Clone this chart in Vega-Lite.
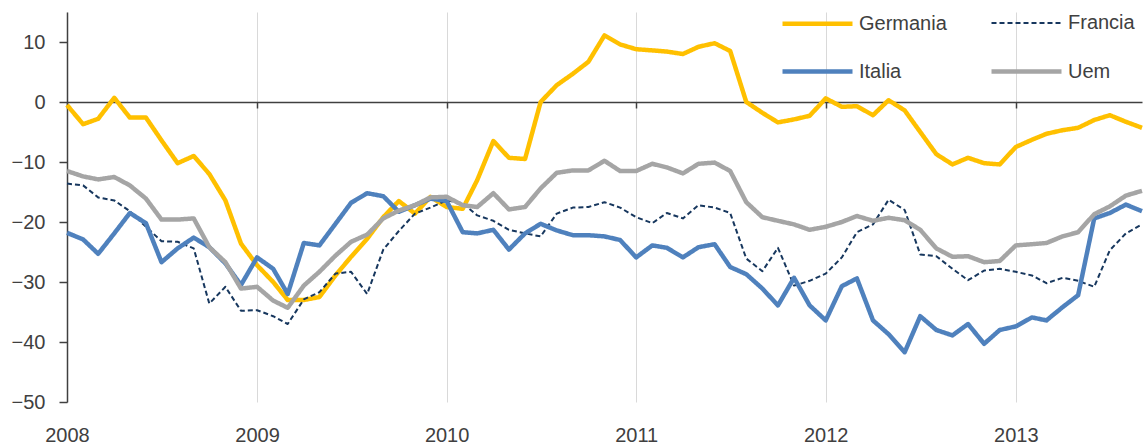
{
  "$schema": "https://vega.github.io/schema/vega-lite/v6.json",
  "width": 1075,
  "height": 390,
  "autosize": "none",
  "padding": {"left": 67, "top": 12, "right": 4, "bottom": 46},
  "background": "white",
  "config": {
    "view": {"stroke": null},
    "font": "Liberation Sans",
    "axis": {"labelFont": "Liberation Sans", "labelFontSize": 20, "labelColor": "#404040", "title": null}
  },
  "data": {
    "values": [
      {"mese": "2008-01-01", "serie": "Germania", "valore": -0.5},
      {"mese": "2008-02-01", "serie": "Germania", "valore": -3.7},
      {"mese": "2008-03-01", "serie": "Germania", "valore": -2.8},
      {"mese": "2008-04-01", "serie": "Germania", "valore": 0.7},
      {"mese": "2008-05-01", "serie": "Germania", "valore": -2.6},
      {"mese": "2008-06-01", "serie": "Germania", "valore": -2.6},
      {"mese": "2008-07-01", "serie": "Germania", "valore": -6.4},
      {"mese": "2008-08-01", "serie": "Germania", "valore": -10.2},
      {"mese": "2008-09-01", "serie": "Germania", "valore": -9.0},
      {"mese": "2008-10-01", "serie": "Germania", "valore": -12.0},
      {"mese": "2008-11-01", "serie": "Germania", "valore": -16.4},
      {"mese": "2008-12-01", "serie": "Germania", "valore": -23.6},
      {"mese": "2009-01-01", "serie": "Germania", "valore": -27.2},
      {"mese": "2009-02-01", "serie": "Germania", "valore": -30.0},
      {"mese": "2009-03-01", "serie": "Germania", "valore": -33.0},
      {"mese": "2009-04-01", "serie": "Germania", "valore": -33.0},
      {"mese": "2009-05-01", "serie": "Germania", "valore": -32.5},
      {"mese": "2009-06-01", "serie": "Germania", "valore": -28.9},
      {"mese": "2009-07-01", "serie": "Germania", "valore": -25.8},
      {"mese": "2009-08-01", "serie": "Germania", "valore": -22.8},
      {"mese": "2009-09-01", "serie": "Germania", "valore": -19.2},
      {"mese": "2009-10-01", "serie": "Germania", "valore": -16.5},
      {"mese": "2009-11-01", "serie": "Germania", "valore": -18.6},
      {"mese": "2009-12-01", "serie": "Germania", "valore": -15.8},
      {"mese": "2010-01-01", "serie": "Germania", "valore": -17.5},
      {"mese": "2010-02-01", "serie": "Germania", "valore": -17.8},
      {"mese": "2010-03-01", "serie": "Germania", "valore": -13.0},
      {"mese": "2010-04-01", "serie": "Germania", "valore": -6.5},
      {"mese": "2010-05-01", "serie": "Germania", "valore": -9.3},
      {"mese": "2010-06-01", "serie": "Germania", "valore": -9.5},
      {"mese": "2010-07-01", "serie": "Germania", "valore": 0.0},
      {"mese": "2010-08-01", "serie": "Germania", "valore": 2.8},
      {"mese": "2010-09-01", "serie": "Germania", "valore": 4.7},
      {"mese": "2010-10-01", "serie": "Germania", "valore": 6.7},
      {"mese": "2010-11-01", "serie": "Germania", "valore": 11.1},
      {"mese": "2010-12-01", "serie": "Germania", "valore": 9.6},
      {"mese": "2011-01-01", "serie": "Germania", "valore": 8.8},
      {"mese": "2011-02-01", "serie": "Germania", "valore": 8.6},
      {"mese": "2011-03-01", "serie": "Germania", "valore": 8.4},
      {"mese": "2011-04-01", "serie": "Germania", "valore": 8.0},
      {"mese": "2011-05-01", "serie": "Germania", "valore": 9.2},
      {"mese": "2011-06-01", "serie": "Germania", "valore": 9.8},
      {"mese": "2011-07-01", "serie": "Germania", "valore": 8.5},
      {"mese": "2011-08-01", "serie": "Germania", "valore": 0.0},
      {"mese": "2011-09-01", "serie": "Germania", "valore": -1.8},
      {"mese": "2011-10-01", "serie": "Germania", "valore": -3.4},
      {"mese": "2011-11-01", "serie": "Germania", "valore": -2.9},
      {"mese": "2011-12-01", "serie": "Germania", "valore": -2.3},
      {"mese": "2012-01-01", "serie": "Germania", "valore": 0.6},
      {"mese": "2012-02-01", "serie": "Germania", "valore": -0.8},
      {"mese": "2012-03-01", "serie": "Germania", "valore": -0.7},
      {"mese": "2012-04-01", "serie": "Germania", "valore": -2.2},
      {"mese": "2012-05-01", "serie": "Germania", "valore": 0.3},
      {"mese": "2012-06-01", "serie": "Germania", "valore": -1.4},
      {"mese": "2012-07-01", "serie": "Germania", "valore": -5.0},
      {"mese": "2012-08-01", "serie": "Germania", "valore": -8.7},
      {"mese": "2012-09-01", "serie": "Germania", "valore": -10.4},
      {"mese": "2012-10-01", "serie": "Germania", "valore": -9.3},
      {"mese": "2012-11-01", "serie": "Germania", "valore": -10.2},
      {"mese": "2012-12-01", "serie": "Germania", "valore": -10.4},
      {"mese": "2013-01-01", "serie": "Germania", "valore": -7.5},
      {"mese": "2013-02-01", "serie": "Germania", "valore": -6.3},
      {"mese": "2013-03-01", "serie": "Germania", "valore": -5.3},
      {"mese": "2013-04-01", "serie": "Germania", "valore": -4.7},
      {"mese": "2013-05-01", "serie": "Germania", "valore": -4.3},
      {"mese": "2013-06-01", "serie": "Germania", "valore": -3.0},
      {"mese": "2013-07-01", "serie": "Germania", "valore": -2.2},
      {"mese": "2013-08-01", "serie": "Germania", "valore": -3.3},
      {"mese": "2013-09-01", "serie": "Germania", "valore": -4.3},

      {"mese": "2008-01-01", "serie": "Francia", "valore": -13.6},
      {"mese": "2008-02-01", "serie": "Francia", "valore": -13.9},
      {"mese": "2008-03-01", "serie": "Francia", "valore": -15.9},
      {"mese": "2008-04-01", "serie": "Francia", "valore": -16.4},
      {"mese": "2008-05-01", "serie": "Francia", "valore": -18.2},
      {"mese": "2008-06-01", "serie": "Francia", "valore": -20.8},
      {"mese": "2008-07-01", "serie": "Francia", "valore": -23.2},
      {"mese": "2008-08-01", "serie": "Francia", "valore": -23.3},
      {"mese": "2008-09-01", "serie": "Francia", "valore": -24.4},
      {"mese": "2008-10-01", "serie": "Francia", "valore": -33.6},
      {"mese": "2008-11-01", "serie": "Francia", "valore": -30.8},
      {"mese": "2008-12-01", "serie": "Francia", "valore": -34.8},
      {"mese": "2009-01-01", "serie": "Francia", "valore": -34.7},
      {"mese": "2009-02-01", "serie": "Francia", "valore": -35.7},
      {"mese": "2009-03-01", "serie": "Francia", "valore": -37.0},
      {"mese": "2009-04-01", "serie": "Francia", "valore": -32.9},
      {"mese": "2009-05-01", "serie": "Francia", "valore": -31.7},
      {"mese": "2009-06-01", "serie": "Francia", "valore": -28.6},
      {"mese": "2009-07-01", "serie": "Francia", "valore": -28.3},
      {"mese": "2009-08-01", "serie": "Francia", "valore": -32.0},
      {"mese": "2009-09-01", "serie": "Francia", "valore": -24.6},
      {"mese": "2009-10-01", "serie": "Francia", "valore": -21.5},
      {"mese": "2009-11-01", "serie": "Francia", "valore": -18.6},
      {"mese": "2009-12-01", "serie": "Francia", "valore": -17.6},
      {"mese": "2010-01-01", "serie": "Francia", "valore": -16.4},
      {"mese": "2010-02-01", "serie": "Francia", "valore": -16.9},
      {"mese": "2010-03-01", "serie": "Francia", "valore": -18.9},
      {"mese": "2010-04-01", "serie": "Francia", "valore": -19.8},
      {"mese": "2010-05-01", "serie": "Francia", "valore": -21.3},
      {"mese": "2010-06-01", "serie": "Francia", "valore": -21.9},
      {"mese": "2010-07-01", "serie": "Francia", "valore": -22.4},
      {"mese": "2010-08-01", "serie": "Francia", "valore": -18.6},
      {"mese": "2010-09-01", "serie": "Francia", "valore": -17.6},
      {"mese": "2010-10-01", "serie": "Francia", "valore": -17.5},
      {"mese": "2010-11-01", "serie": "Francia", "valore": -16.7},
      {"mese": "2010-12-01", "serie": "Francia", "valore": -17.6},
      {"mese": "2011-01-01", "serie": "Francia", "valore": -19.2},
      {"mese": "2011-02-01", "serie": "Francia", "valore": -20.2},
      {"mese": "2011-03-01", "serie": "Francia", "valore": -18.5},
      {"mese": "2011-04-01", "serie": "Francia", "valore": -19.4},
      {"mese": "2011-05-01", "serie": "Francia", "valore": -17.2},
      {"mese": "2011-06-01", "serie": "Francia", "valore": -17.6},
      {"mese": "2011-07-01", "serie": "Francia", "valore": -18.5},
      {"mese": "2011-08-01", "serie": "Francia", "valore": -26.1},
      {"mese": "2011-09-01", "serie": "Francia", "valore": -28.2},
      {"mese": "2011-10-01", "serie": "Francia", "valore": -24.3},
      {"mese": "2011-11-01", "serie": "Francia", "valore": -30.6},
      {"mese": "2011-12-01", "serie": "Francia", "valore": -29.8},
      {"mese": "2012-01-01", "serie": "Francia", "valore": -28.6},
      {"mese": "2012-02-01", "serie": "Francia", "valore": -25.9},
      {"mese": "2012-03-01", "serie": "Francia", "valore": -21.7},
      {"mese": "2012-04-01", "serie": "Francia", "valore": -20.4},
      {"mese": "2012-05-01", "serie": "Francia", "valore": -16.3},
      {"mese": "2012-06-01", "serie": "Francia", "valore": -18.0},
      {"mese": "2012-07-01", "serie": "Francia", "valore": -25.4},
      {"mese": "2012-08-01", "serie": "Francia", "valore": -25.7},
      {"mese": "2012-09-01", "serie": "Francia", "valore": -27.8},
      {"mese": "2012-10-01", "serie": "Francia", "valore": -29.7},
      {"mese": "2012-11-01", "serie": "Francia", "valore": -28.1},
      {"mese": "2012-12-01", "serie": "Francia", "valore": -27.8},
      {"mese": "2013-01-01", "serie": "Francia", "valore": -28.3},
      {"mese": "2013-02-01", "serie": "Francia", "valore": -28.9},
      {"mese": "2013-03-01", "serie": "Francia", "valore": -30.2},
      {"mese": "2013-04-01", "serie": "Francia", "valore": -29.3},
      {"mese": "2013-05-01", "serie": "Francia", "valore": -29.8},
      {"mese": "2013-06-01", "serie": "Francia", "valore": -30.8},
      {"mese": "2013-07-01", "serie": "Francia", "valore": -24.7},
      {"mese": "2013-08-01", "serie": "Francia", "valore": -21.9},
      {"mese": "2013-09-01", "serie": "Francia", "valore": -20.4},

      {"mese": "2008-01-01", "serie": "Italia", "valore": -21.8},
      {"mese": "2008-02-01", "serie": "Italia", "valore": -22.9},
      {"mese": "2008-03-01", "serie": "Italia", "valore": -25.3},
      {"mese": "2008-04-01", "serie": "Italia", "valore": -21.9},
      {"mese": "2008-05-01", "serie": "Italia", "valore": -18.5},
      {"mese": "2008-06-01", "serie": "Italia", "valore": -20.2},
      {"mese": "2008-07-01", "serie": "Italia", "valore": -26.7},
      {"mese": "2008-08-01", "serie": "Italia", "valore": -24.4},
      {"mese": "2008-09-01", "serie": "Italia", "valore": -22.6},
      {"mese": "2008-10-01", "serie": "Italia", "valore": -24.2},
      {"mese": "2008-11-01", "serie": "Italia", "valore": -26.9},
      {"mese": "2008-12-01", "serie": "Italia", "valore": -30.5},
      {"mese": "2009-01-01", "serie": "Italia", "valore": -25.9},
      {"mese": "2009-02-01", "serie": "Italia", "valore": -27.8},
      {"mese": "2009-03-01", "serie": "Italia", "valore": -32.0},
      {"mese": "2009-04-01", "serie": "Italia", "valore": -23.5},
      {"mese": "2009-05-01", "serie": "Italia", "valore": -23.9},
      {"mese": "2009-06-01", "serie": "Italia", "valore": -20.3},
      {"mese": "2009-07-01", "serie": "Italia", "valore": -16.8},
      {"mese": "2009-08-01", "serie": "Italia", "valore": -15.2},
      {"mese": "2009-09-01", "serie": "Italia", "valore": -15.7},
      {"mese": "2009-10-01", "serie": "Italia", "valore": -18.3},
      {"mese": "2009-11-01", "serie": "Italia", "valore": -17.2},
      {"mese": "2009-12-01", "serie": "Italia", "valore": -16.1},
      {"mese": "2010-01-01", "serie": "Italia", "valore": -16.5},
      {"mese": "2010-02-01", "serie": "Italia", "valore": -21.7},
      {"mese": "2010-03-01", "serie": "Italia", "valore": -21.9},
      {"mese": "2010-04-01", "serie": "Italia", "valore": -21.3},
      {"mese": "2010-05-01", "serie": "Italia", "valore": -24.6},
      {"mese": "2010-06-01", "serie": "Italia", "valore": -21.9},
      {"mese": "2010-07-01", "serie": "Italia", "valore": -20.3},
      {"mese": "2010-08-01", "serie": "Italia", "valore": -21.4},
      {"mese": "2010-09-01", "serie": "Italia", "valore": -22.2},
      {"mese": "2010-10-01", "serie": "Italia", "valore": -22.2},
      {"mese": "2010-11-01", "serie": "Italia", "valore": -22.4},
      {"mese": "2010-12-01", "serie": "Italia", "valore": -23.0},
      {"mese": "2011-01-01", "serie": "Italia", "valore": -25.9},
      {"mese": "2011-02-01", "serie": "Italia", "valore": -23.9},
      {"mese": "2011-03-01", "serie": "Italia", "valore": -24.3},
      {"mese": "2011-04-01", "serie": "Italia", "valore": -25.9},
      {"mese": "2011-05-01", "serie": "Italia", "valore": -24.2},
      {"mese": "2011-06-01", "serie": "Italia", "valore": -23.7},
      {"mese": "2011-07-01", "serie": "Italia", "valore": -27.5},
      {"mese": "2011-08-01", "serie": "Italia", "valore": -28.7},
      {"mese": "2011-09-01", "serie": "Italia", "valore": -31.1},
      {"mese": "2011-10-01", "serie": "Italia", "valore": -33.9},
      {"mese": "2011-11-01", "serie": "Italia", "valore": -29.3},
      {"mese": "2011-12-01", "serie": "Italia", "valore": -33.9},
      {"mese": "2012-01-01", "serie": "Italia", "valore": -36.4},
      {"mese": "2012-02-01", "serie": "Italia", "valore": -30.7},
      {"mese": "2012-03-01", "serie": "Italia", "valore": -29.4},
      {"mese": "2012-04-01", "serie": "Italia", "valore": -36.4},
      {"mese": "2012-05-01", "serie": "Italia", "valore": -38.7},
      {"mese": "2012-06-01", "serie": "Italia", "valore": -41.7},
      {"mese": "2012-07-01", "serie": "Italia", "valore": -35.7},
      {"mese": "2012-08-01", "serie": "Italia", "valore": -38.0},
      {"mese": "2012-09-01", "serie": "Italia", "valore": -38.9},
      {"mese": "2012-10-01", "serie": "Italia", "valore": -37.0},
      {"mese": "2012-11-01", "serie": "Italia", "valore": -40.3},
      {"mese": "2012-12-01", "serie": "Italia", "valore": -38.0},
      {"mese": "2013-01-01", "serie": "Italia", "valore": -37.4},
      {"mese": "2013-02-01", "serie": "Italia", "valore": -35.9},
      {"mese": "2013-03-01", "serie": "Italia", "valore": -36.4},
      {"mese": "2013-04-01", "serie": "Italia", "valore": -34.2},
      {"mese": "2013-05-01", "serie": "Italia", "valore": -32.2},
      {"mese": "2013-06-01", "serie": "Italia", "valore": -19.4},
      {"mese": "2013-07-01", "serie": "Italia", "valore": -18.5},
      {"mese": "2013-08-01", "serie": "Italia", "valore": -17.1},
      {"mese": "2013-09-01", "serie": "Italia", "valore": -18.2},

      {"mese": "2008-01-01", "serie": "Uem", "valore": -11.5},
      {"mese": "2008-02-01", "serie": "Uem", "valore": -12.4},
      {"mese": "2008-03-01", "serie": "Uem", "valore": -12.9},
      {"mese": "2008-04-01", "serie": "Uem", "valore": -12.5},
      {"mese": "2008-05-01", "serie": "Uem", "valore": -13.9},
      {"mese": "2008-06-01", "serie": "Uem", "valore": -16.1},
      {"mese": "2008-07-01", "serie": "Uem", "valore": -19.6},
      {"mese": "2008-08-01", "serie": "Uem", "valore": -19.6},
      {"mese": "2008-09-01", "serie": "Uem", "valore": -19.4},
      {"mese": "2008-10-01", "serie": "Uem", "valore": -24.2},
      {"mese": "2008-11-01", "serie": "Uem", "valore": -26.7},
      {"mese": "2008-12-01", "serie": "Uem", "valore": -31.1},
      {"mese": "2009-01-01", "serie": "Uem", "valore": -30.8},
      {"mese": "2009-02-01", "serie": "Uem", "valore": -33.1},
      {"mese": "2009-03-01", "serie": "Uem", "valore": -34.3},
      {"mese": "2009-04-01", "serie": "Uem", "valore": -30.6},
      {"mese": "2009-05-01", "serie": "Uem", "valore": -28.3},
      {"mese": "2009-06-01", "serie": "Uem", "valore": -25.6},
      {"mese": "2009-07-01", "serie": "Uem", "valore": -23.3},
      {"mese": "2009-08-01", "serie": "Uem", "valore": -22.1},
      {"mese": "2009-09-01", "serie": "Uem", "valore": -19.4},
      {"mese": "2009-10-01", "serie": "Uem", "valore": -18.1},
      {"mese": "2009-11-01", "serie": "Uem", "valore": -17.2},
      {"mese": "2009-12-01", "serie": "Uem", "valore": -15.9},
      {"mese": "2010-01-01", "serie": "Uem", "valore": -15.8},
      {"mese": "2010-02-01", "serie": "Uem", "valore": -17.2},
      {"mese": "2010-03-01", "serie": "Uem", "valore": -17.5},
      {"mese": "2010-04-01", "serie": "Uem", "valore": -15.2},
      {"mese": "2010-05-01", "serie": "Uem", "valore": -17.9},
      {"mese": "2010-06-01", "serie": "Uem", "valore": -17.5},
      {"mese": "2010-07-01", "serie": "Uem", "valore": -14.4},
      {"mese": "2010-08-01", "serie": "Uem", "valore": -11.8},
      {"mese": "2010-09-01", "serie": "Uem", "valore": -11.4},
      {"mese": "2010-10-01", "serie": "Uem", "valore": -11.4},
      {"mese": "2010-11-01", "serie": "Uem", "valore": -9.8},
      {"mese": "2010-12-01", "serie": "Uem", "valore": -11.5},
      {"mese": "2011-01-01", "serie": "Uem", "valore": -11.5},
      {"mese": "2011-02-01", "serie": "Uem", "valore": -10.3},
      {"mese": "2011-03-01", "serie": "Uem", "valore": -10.9},
      {"mese": "2011-04-01", "serie": "Uem", "valore": -11.9},
      {"mese": "2011-05-01", "serie": "Uem", "valore": -10.3},
      {"mese": "2011-06-01", "serie": "Uem", "valore": -10.1},
      {"mese": "2011-07-01", "serie": "Uem", "valore": -11.5},
      {"mese": "2011-08-01", "serie": "Uem", "valore": -16.7},
      {"mese": "2011-09-01", "serie": "Uem", "valore": -19.2},
      {"mese": "2011-10-01", "serie": "Uem", "valore": -19.8},
      {"mese": "2011-11-01", "serie": "Uem", "valore": -20.4},
      {"mese": "2011-12-01", "serie": "Uem", "valore": -21.3},
      {"mese": "2012-01-01", "serie": "Uem", "valore": -20.8},
      {"mese": "2012-02-01", "serie": "Uem", "valore": -20.0},
      {"mese": "2012-03-01", "serie": "Uem", "valore": -19.0},
      {"mese": "2012-04-01", "serie": "Uem", "valore": -19.8},
      {"mese": "2012-05-01", "serie": "Uem", "valore": -19.3},
      {"mese": "2012-06-01", "serie": "Uem", "valore": -19.7},
      {"mese": "2012-07-01", "serie": "Uem", "valore": -21.3},
      {"mese": "2012-08-01", "serie": "Uem", "valore": -24.4},
      {"mese": "2012-09-01", "serie": "Uem", "valore": -25.8},
      {"mese": "2012-10-01", "serie": "Uem", "valore": -25.7},
      {"mese": "2012-11-01", "serie": "Uem", "valore": -26.7},
      {"mese": "2012-12-01", "serie": "Uem", "valore": -26.5},
      {"mese": "2013-01-01", "serie": "Uem", "valore": -23.9},
      {"mese": "2013-02-01", "serie": "Uem", "valore": -23.7},
      {"mese": "2013-03-01", "serie": "Uem", "valore": -23.5},
      {"mese": "2013-04-01", "serie": "Uem", "valore": -22.4},
      {"mese": "2013-05-01", "serie": "Uem", "valore": -21.7},
      {"mese": "2013-06-01", "serie": "Uem", "valore": -18.7},
      {"mese": "2013-07-01", "serie": "Uem", "valore": -17.4},
      {"mese": "2013-08-01", "serie": "Uem", "valore": -15.6},
      {"mese": "2013-09-01", "serie": "Uem", "valore": -14.8}
    ]
  },
  "mark": {"type": "line", "strokeJoin": "round", "strokeCap": "butt"},
  "encoding": {
    "x": {
      "field": "mese",
      "type": "temporal",
      "scale": {
        "type": "utc",
        "nice": false,
        "domain": [
          {"year": 2008, "month": 1, "date": 1, "utc": true},
          {"year": 2013, "month": 9, "date": 1, "utc": true}
        ]
      },
      "axis": {
        "orient": "bottom",
        "offset": -300,
        "format": "%Y",
        "tickCount": {"interval": "year", "step": 1},
        "domain": true,
        "domainColor": "#404040",
        "domainWidth": 1.5,
        "ticks": true,
        "tickColor": "#404040",
        "tickWidth": 1.5,
        "tickSize": 6,
        "labelPadding": 317,
        "labelAlign": "center",
        "labelFlush": false,
        "grid": true,
        "gridColor": "#D9D9D9",
        "gridWidth": 1
      }
    },
    "y": {
      "field": "valore",
      "type": "quantitative",
      "scale": {"domain": [-50, 15], "nice": false, "zero": false},
      "axis": {
        "values": [-50, -40, -30, -20, -10, 0, 10],
        "grid": false,
        "domain": true,
        "domainColor": "#404040",
        "domainWidth": 1.5,
        "ticks": true,
        "tickColor": "#404040",
        "tickWidth": 1.5,
        "tickSize": 8,
        "labelPadding": 14
      }
    },
    "color": {
      "field": "serie",
      "type": "nominal",
      "scale": {
        "domain": ["Germania", "Italia", "Francia", "Uem"],
        "range": ["#FFC000", "#4F81BD", "#17375E", "#A5A5A5"]
      },
      "legend": {
        "title": null,
        "orient": "none",
        "legendX": 713,
        "legendY": -26,
        "columns": 2,
        "columnPadding": 35,
        "rowPadding": 0,
        "symbolType": "stroke",
        "symbolSize": 4900,
        "labelFont": "Liberation Sans",
        "labelFontSize": 20,
        "labelColor": "#404040",
        "labelOffset": 4
      }
    },
    "strokeDash": {
      "field": "serie",
      "type": "nominal",
      "scale": {
        "domain": ["Germania", "Italia", "Francia", "Uem"],
        "range": [[1, 0], [1, 0], [5, 3], [1, 0]]
      }
    },
    "strokeWidth": {
      "field": "serie",
      "type": "nominal",
      "scale": {
        "type": "ordinal",
        "domain": ["Germania", "Italia", "Francia", "Uem"],
        "range": [4.5, 4.5, 2, 4.5]
      }
    }
  }
}
